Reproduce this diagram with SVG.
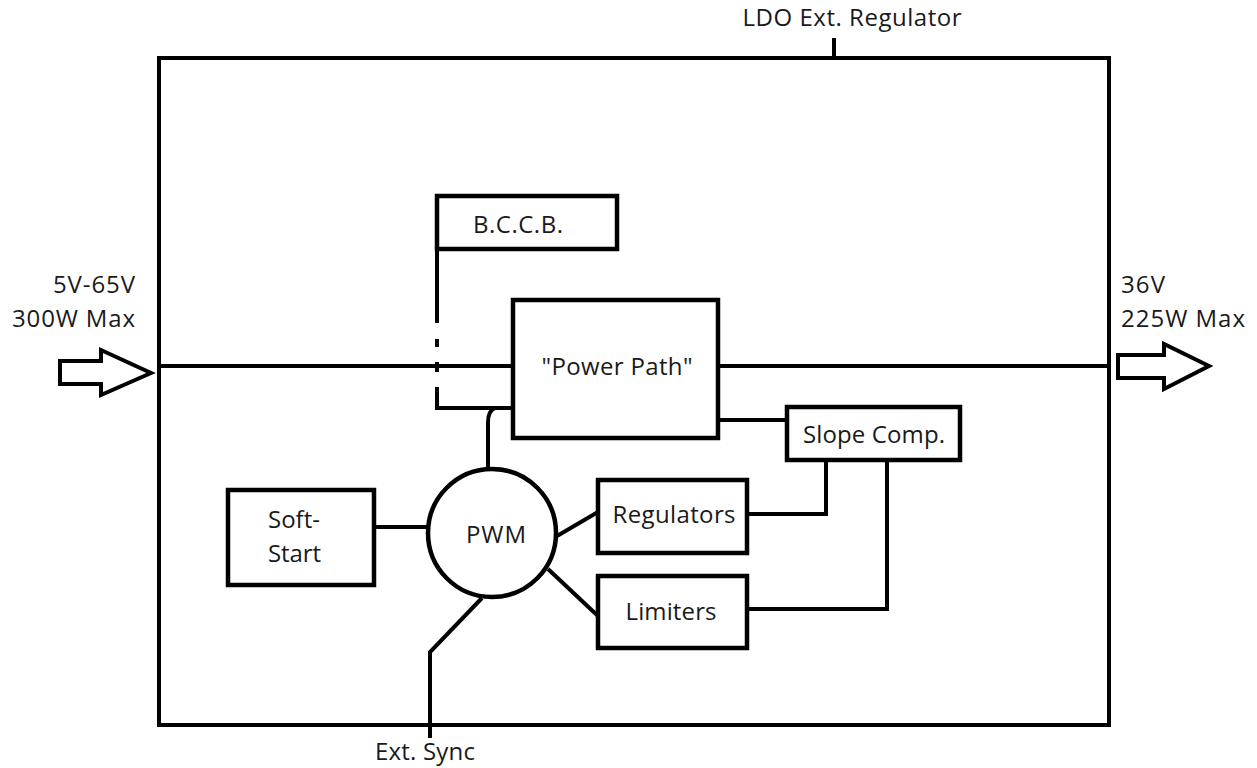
<svg xmlns="http://www.w3.org/2000/svg" width="1257" height="768" viewBox="0 0 1257 768">
<style>
.b{fill:#fff;stroke:#000;stroke-width:4.5}
.l{fill:none;stroke:#000;stroke-width:4}
.t{font-family:"Open Sans","Liberation Sans",sans-serif;font-size:24px;fill:#1a1a1a}
.m{text-anchor:middle}
.e{text-anchor:end}
</style>
<rect width="1257" height="768" fill="#fff"/>
<g id="system">
<rect class="l" x="159" y="58" width="950" height="667"/>
</g>
<g id="connectors">
<line class="l" x1="834" y1="38" x2="834" y2="58"/>
<line class="l" x1="159" y1="366" x2="513" y2="366"/>
<line class="l" x1="718" y1="366" x2="1109" y2="366"/>
<polyline class="l" points="437,249 437,323"/>
<line class="l" x1="437" y1="339" x2="437" y2="347"/>
<line class="l" x1="437" y1="362" x2="437" y2="372"/>
<polyline class="l" points="437,387 437,408 513,408"/>
<path class="l" d="M488,469 L488,422 Q488,411 495,408"/>
<line class="l" x1="374" y1="527" x2="428" y2="527"/>
<line class="l" x1="557" y1="536" x2="598" y2="512"/>
<line class="l" x1="548" y1="569" x2="598" y2="616"/>
<polyline class="l" points="482,598 430,652 430,738"/>
<line class="l" x1="718" y1="420" x2="787" y2="420"/>
<polyline class="l" points="747,514 826,514 826,460"/>
<polyline class="l" points="747,609 887,609 887,460"/>
<path class="l" d="M60,361 L101,361 L101,350 L151,373 L101,395 L101,384 L60,384 Z"/>
<path class="l" d="M1118,355 L1164,355 L1164,344 L1209,366 L1164,389 L1164,378 L1118,378 Z"/>
</g>
<g id="bccb">
<rect class="b" x="437" y="196" width="180" height="53"/>
<text class="t m" x="518" y="233" textLength="90">B.C.C.B.</text>
</g>
<g id="power-path">
<rect class="b" x="513" y="300" width="205" height="138"/>
<text class="t m" x="617" y="375" textLength="151">"Power Path"</text>
</g>
<g id="slope-comp">
<rect class="b" x="787" y="407" width="173" height="53"/>
<text class="t m" x="874" y="443" textLength="142">Slope Comp.</text>
</g>
<g id="soft-start">
<rect class="b" x="228" y="490" width="146" height="95"/>
<text class="t" x="268" y="528" textLength="52">Soft-</text>
<text class="t" x="268" y="562" textLength="53">Start</text>
</g>
<g id="pwm">
<circle class="b" cx="492" cy="533" r="64"/>
<text class="t m" x="496" y="543" textLength="60">PWM</text>
</g>
<g id="regulators">
<rect class="b" x="598" y="480" width="149" height="73"/>
<text class="t m" x="674" y="523" textLength="123">Regulators</text>
</g>
<g id="limiters">
<rect class="b" x="598" y="576" width="149" height="72"/>
<text class="t m" x="671" y="620" textLength="91">Limiters</text>
</g>
<g id="labels">
<text class="t m" x="852" y="26" textLength="219">LDO Ext. Regulator</text>
<text class="t e" x="135" y="293" textLength="82">5V-65V</text>
<text class="t e" x="135" y="327" textLength="123">300W Max</text>
<text class="t" x="1121" y="293" textLength="44">36V</text>
<text class="t" x="1121" y="327" textLength="124">225W Max</text>
<text class="t m" x="425" y="760" textLength="100">Ext. Sync</text>
</g>
</svg>
